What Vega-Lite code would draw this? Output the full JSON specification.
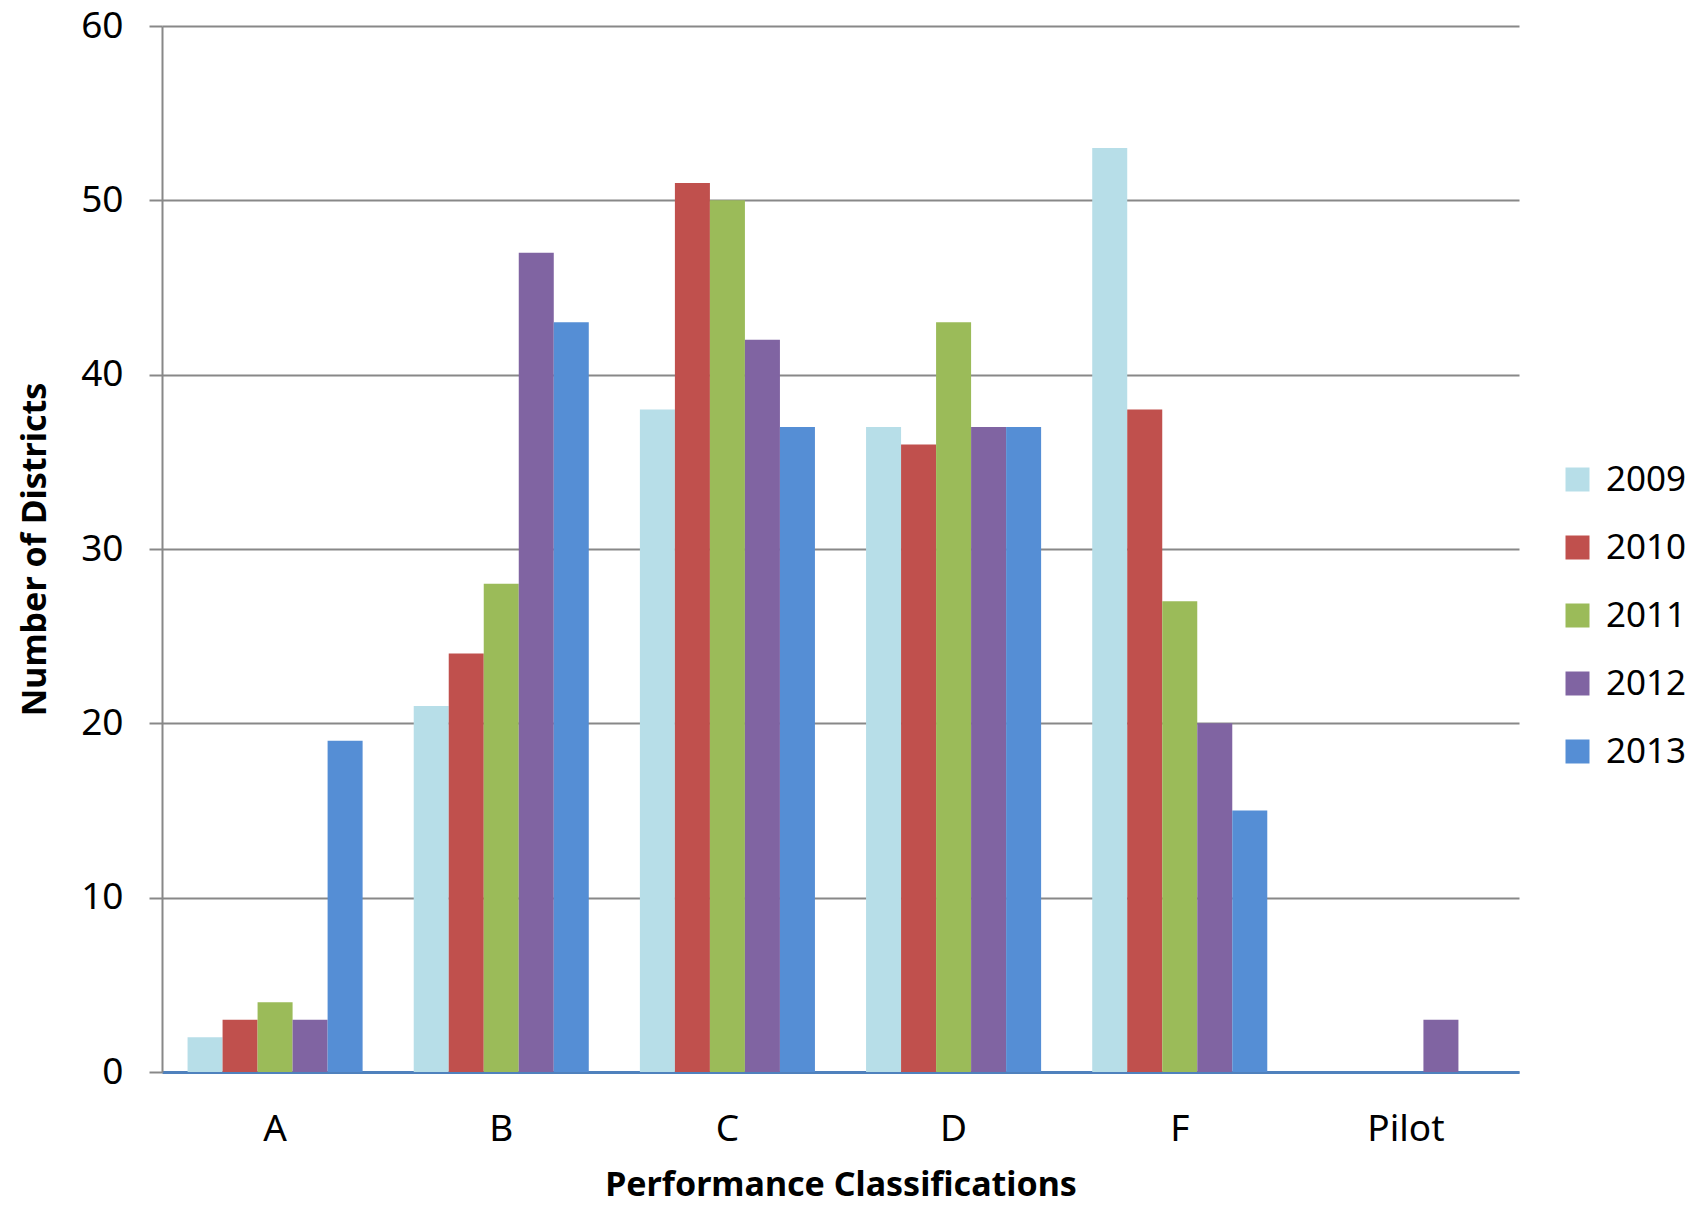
{
  "$schema": "https://vega.github.io/schema/vega-lite/v6.json",
  "width": 1357,
  "height": 1046,
  "autosize": {"type": "none"},
  "padding": {"left": 162, "top": 26, "right": 182, "bottom": 135},
  "background": "white",
  "data": {
    "values": [
      {"cls": "A", "year": "2009", "n": 2},
      {"cls": "A", "year": "2010", "n": 3},
      {"cls": "A", "year": "2011", "n": 4},
      {"cls": "A", "year": "2012", "n": 3},
      {"cls": "A", "year": "2013", "n": 19},
      {"cls": "B", "year": "2009", "n": 21},
      {"cls": "B", "year": "2010", "n": 24},
      {"cls": "B", "year": "2011", "n": 28},
      {"cls": "B", "year": "2012", "n": 47},
      {"cls": "B", "year": "2013", "n": 43},
      {"cls": "C", "year": "2009", "n": 38},
      {"cls": "C", "year": "2010", "n": 51},
      {"cls": "C", "year": "2011", "n": 50},
      {"cls": "C", "year": "2012", "n": 42},
      {"cls": "C", "year": "2013", "n": 37},
      {"cls": "D", "year": "2009", "n": 37},
      {"cls": "D", "year": "2010", "n": 36},
      {"cls": "D", "year": "2011", "n": 43},
      {"cls": "D", "year": "2012", "n": 37},
      {"cls": "D", "year": "2013", "n": 37},
      {"cls": "F", "year": "2009", "n": 53},
      {"cls": "F", "year": "2010", "n": 38},
      {"cls": "F", "year": "2011", "n": 27},
      {"cls": "F", "year": "2012", "n": 20},
      {"cls": "F", "year": "2013", "n": 15},
      {"cls": "Pilot", "year": "2009", "n": 0},
      {"cls": "Pilot", "year": "2010", "n": 0},
      {"cls": "Pilot", "year": "2011", "n": 0},
      {"cls": "Pilot", "year": "2012", "n": 3},
      {"cls": "Pilot", "year": "2013", "n": 0}
    ]
  },
  "config": {
    "font": "Noto Sans",
    "view": {"stroke": null}
  },
  "mark": {"type": "bar"},
  "encoding": {
    "x": {
      "field": "cls",
      "type": "nominal",
      "sort": ["A", "B", "C", "D", "F", "Pilot"],
      "scale": {"paddingInner": 0.226, "paddingOuter": 0.113},
      "axis": {
        "title": "Performance Classifications",
        "titleFontSize": 34,
        "titleFontWeight": "bold",
        "titleColor": "black",
        "titlePadding": 21,
        "labelAngle": 0,
        "labelFontSize": 37,
        "labelColor": "black",
        "labelPadding": 39,
        "ticks": false,
        "domainColor": "#4F81BD",
        "domainWidth": 3,
        "grid": false
      }
    },
    "xOffset": {"field": "year", "type": "nominal", "scale": {"paddingInner": 0, "paddingOuter": 0}},
    "y": {
      "field": "n",
      "type": "quantitative",
      "scale": {"domain": [0, 60], "nice": false},
      "axis": {
        "title": "Number of Districts",
        "titleFontSize": 34,
        "titleFontWeight": "bold",
        "titleColor": "black",
        "titlePadding": 28,
        "values": [0, 10, 20, 30, 40, 50, 60],
        "labelFontSize": 37,
        "labelColor": "black",
        "labelPadding": 26,
        "tickSize": 13,
        "tickColor": "#888888",
        "tickWidth": 2,
        "domainColor": "#888888",
        "domainWidth": 2,
        "gridColor": "#888888",
        "gridWidth": 2
      }
    },
    "color": {
      "field": "year",
      "type": "nominal",
      "scale": {
        "domain": ["2009", "2010", "2011", "2012", "2013"],
        "range": ["#B7DEE8", "#C0504D", "#9BBB59", "#8064A2", "#558ED5"]
      },
      "legend": {
        "title": null,
        "orient": "none",
        "legendX": 1398,
        "legendY": 436,
        "symbolType": "square",
        "symbolSize": 576,
        "symbolStrokeWidth": 0,
        "symbolOpacity": 1,
        "labelFontSize": 35,
        "labelColor": "black",
        "labelOffset": 11,
        "rowPadding": 32
      }
    }
  }
}
